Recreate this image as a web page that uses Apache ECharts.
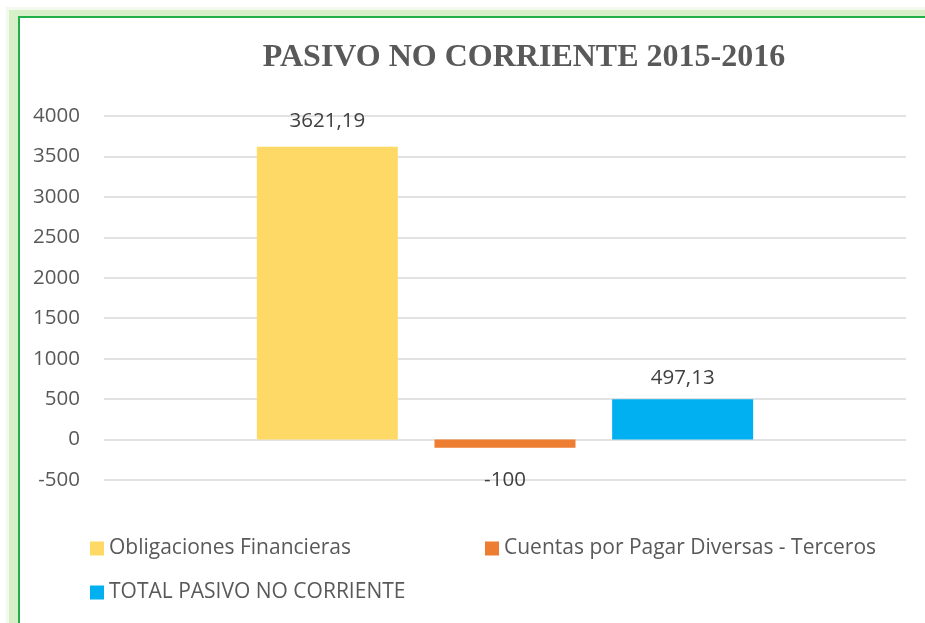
<!DOCTYPE html>
<html>
<head>
<meta charset="utf-8">
<script src="https://cdn.jsdelivr.net/npm/echarts@6/dist/echarts.min.js"></script>
<style>
html,body{margin:0;padding:0;background:#fff;}
#c{width:925px;height:623px;}
</style>
</head>
<body>
<div id="c"></div>
<script>
const categories = ['2015-2016'];
const seriesNames = ['Obligaciones Financieras', 'Cuentas por Pagar Diversas - Terceros', 'TOTAL PASIVO NO CORRIENTE'];
const obligaciones = [3621.19];
const cuentas = [-100];
const total = [497.13];
const yTicks = { min: -500, max: 4000, interval: 500 };

const colors = ['#FFD966', '#ED7D31', '#00B0F0'];
const fmt = p => String(p.value).replace('.', ',');
const FS = 20.5;
const labelBase = { show: true, fontSize: FS, color: '#404040', fontFamily: 'Open Sans', formatter: fmt };
const legendText = { fontSize: 21, color: '#595959', fontFamily: 'Open Sans' };

const chart = echarts.init(document.getElementById('c'));
chart.setOption({
  animation: false,
  backgroundColor: '#fff',
  graphic: [
    { type: 'rect', shape: { x: 6, y: 7, width: 930, height: 630 }, style: { fill: '#f3f9ee' }, z: -10 },
    { type: 'rect', shape: { x: 9, y: 10, width: 930, height: 630 }, style: { fill: '#d8f0c8' }, z: -9 },
    { type: 'rect', shape: { x: 19, y: 17, width: 930, height: 630 }, style: { fill: '#ffffff', stroke: '#1fb04a', lineWidth: 2 }, z: -8 }
  ],
  title: {
    text: 'PASIVO NO CORRIENTE 2015-2016',
    left: 519, top: 37, textAlign: 'center',
    textStyle: { fontFamily: 'Liberation Serif', fontWeight: 'bold', fontSize: 32, color: '#595959' }
  },
  legend: [
    { data: [seriesNames[0]], left: 90, top: 538, padding: 0, itemGap: 0, itemWidth: 14, itemHeight: 14, icon: 'rect', textStyle: legendText },
    { data: [seriesNames[1]], left: 485, top: 538, padding: 0, itemGap: 0, itemWidth: 14, itemHeight: 14, icon: 'rect', textStyle: legendText },
    { data: [seriesNames[2]], left: 90, top: 582, padding: 0, itemGap: 0, itemWidth: 14, itemHeight: 14, icon: 'rect', textStyle: legendText }
  ],
  grid: { left: 104, right: 19, top: 116, bottom: 143, containLabel: false },
  xAxis: {
    type: 'category', data: categories,
    axisLine: { show: false }, axisTick: { show: false }, axisLabel: { show: false }
  },
  yAxis: {
    type: 'value', min: yTicks.min, max: yTicks.max, interval: yTicks.interval,
    axisLine: { show: false }, axisTick: { show: false },
    axisLabel: { fontSize: FS, color: '#595959', fontFamily: 'Open Sans', margin: 24,
      formatter: v => String(v) },
    splitLine: { lineStyle: { color: '#d9d9d9', width: 1.5 } }
  },
  series: [
    { name: seriesNames[0], type: 'bar', data: obligaciones, barWidth: 141, barGap: '26%',
      itemStyle: { color: colors[0] },
      label: Object.assign({}, labelBase, { position: 'top', distance: 15 }) },
    { name: seriesNames[1], type: 'bar', data: cuentas, barWidth: 141, barGap: '26%',
      itemStyle: { color: colors[1] },
      label: Object.assign({}, labelBase, { position: 'bottom', distance: 22 }) },
    { name: seriesNames[2], type: 'bar', data: total, barWidth: 141, barGap: '26%',
      itemStyle: { color: colors[2] },
      label: Object.assign({}, labelBase, { position: 'top', distance: 11 }) }
  ]
});
</script>
</body>
</html>
